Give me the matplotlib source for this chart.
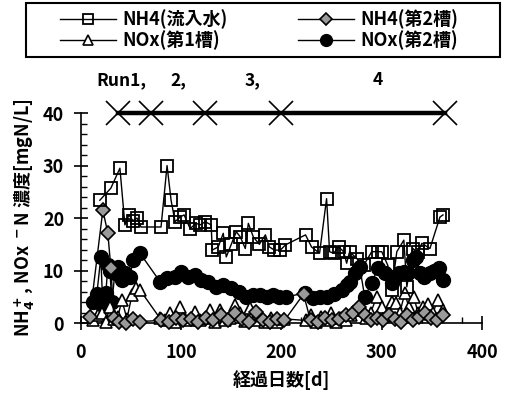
import matplotlib
matplotlib.use('Agg')
import matplotlib.pyplot as plt
from matplotlib.ticker import MultipleLocator
from matplotlib.patches import Rectangle

plt.rcParams['font.family'] = ['Noto Sans CJK JP', 'DejaVu Sans']
plt.rcParams['font.size'] = 12
plt.rcParams['font.weight'] = 'bold'
plt.rcParams['axes.labelweight'] = 'bold'
plt.rcParams['mathtext.fontset'] = 'dejavusans'
plt.rcParams['mathtext.default'] = 'bf'

# NH4 inflow (open squares)
nh4_in_day = [19, 30, 39, 44, 48, 52, 56, 60, 80, 86, 90, 94, 99, 103, 109, 115, 119, 124, 130, 131,
              137, 142, 145, 150, 155, 159, 164, 167, 172, 178, 184, 188, 193, 199, 204, 224, 230, 238,
              245, 248, 252, 257, 262, 265, 268, 275, 282, 290, 296, 300, 306, 310, 315, 322, 325, 331,
              336, 340, 348, 358, 361]
nh4_in = [23.4, 25.7, 29.5, 18.7, 20.6, 19.5, 20.0, 18.3, 18.3, 30.0, 23.4, 19.3, 20.2, 20.6, 18.0, 19.0,
          18.7, 19.3, 18.7, 13.9, 14.5, 17.1, 12.6, 15.0, 17.4, 16.4, 14.2, 19.0, 16.4, 15.0, 16.8, 14.5,
          13.9, 13.9, 14.9, 16.8, 14.5, 13.3, 23.7, 13.6, 13.3, 14.5, 13.6, 11.4, 13.6, 12.3, 11.0, 13.6,
          13.6, 13.6, 11.0, 6.3, 13.6, 15.8, 6.9, 14.2, 13.5, 15.2, 14.2, 20.2, 20.6]

# NH4 2nd tank (grey diamonds)
nh4_2_day = [9, 22, 27, 30, 33, 38, 45, 52, 59, 80, 88, 95, 102, 110, 117, 125, 132, 140, 147, 154,
             161, 168, 175, 182, 189, 196, 203, 222, 229, 236, 243, 250, 257, 264, 271, 277, 283, 289,
             295, 301, 307, 313, 319, 325, 331, 337, 343, 349, 355, 361]
nh4_2 = [1.2, 21.5, 17.1, 10.4, 1.0, 0.3, 0.0, 0.8, 0.3, 0.5, 0.3, 1.0, 0.5, 0.8, 0.3, 1.0, 0.5, 1.5,
         0.5, 1.9, 0.8, 0.3, 2.2, 0.5, 0.3, 0.8, 0.5, 5.5, 0.5, 0.3, 1.0, 0.5, 0.8, 1.5, 2.0, 3.0, 1.5,
         0.5, 1.0, 0.5, 1.5, 0.8, 0.3, 1.5, 0.5, 1.2, 2.0, 1.0, 0.5, 1.5]

# NOx 1st tank (open triangles)
nox1_day = [12, 17, 21, 25, 29, 33, 37, 41, 46, 51, 55, 59, 79, 84, 89, 94, 99, 104, 109, 114, 119,
            124, 129, 134, 139, 144, 149, 154, 159, 164, 169, 174, 179, 184, 190, 196, 203, 224, 229,
            234, 239, 244, 249, 254, 259, 264, 269, 274, 279, 284, 289, 295, 300, 305, 310, 314, 318,
            323, 327, 332, 336, 341, 346, 351, 356, 361]
nox1 = [0.5, 1.5, 1.9, 0.3, 3.0, 0.8, 1.2, 4.4, 0.8, 5.3, 6.7, 6.3, 0.9, 0.5, 2.0, 0.3, 3.1, 0.8, 0.5,
        2.2, 0.5, 1.0, 2.5, 0.3, 2.5, 0.5, 1.0, 3.5, 1.9, 0.4, 2.8, 0.5, 1.5, 0.3, 1.0, 0.3, 0.8, 0.5,
        1.5, 0.3, 1.2, 0.5, 2.0, 0.3, 1.0, 0.5, 1.5, 2.5, 3.1, 1.0, 2.0, 5.0, 3.0, 1.5, 4.0, 3.8, 2.0,
        5.7, 3.0, 5.0, 2.0, 3.0, 3.7, 2.0, 4.4, 2.5]

# NOx 2nd tank (filled circles)
nox2_day = [12, 16, 20, 22, 25, 27, 29, 31, 34, 37, 41, 44, 49, 52, 59, 79, 86, 94, 100, 107, 114,
            120, 127, 135, 142, 150, 158, 165, 172, 179, 186, 192, 198, 205, 223, 231, 238, 245, 252,
            260, 265, 268, 273, 278, 283, 290, 296, 303, 310, 313, 317, 322, 326, 331, 334, 338, 342,
            348, 352, 357, 361]
nox2 = [4.0, 5.5, 12.6, 3.0, 5.7, 11.0, 10.0, 4.0, 9.5, 10.7, 8.2, 9.5, 8.8, 12.0, 13.3, 7.9, 8.5, 8.8,
        9.8, 8.8, 9.1, 8.2, 7.9, 6.9, 7.2, 6.6, 6.0, 5.0, 5.3, 5.3, 5.0, 5.3, 5.0, 5.0, 5.7, 4.8, 5.0,
        5.0, 5.5, 6.3, 7.2, 7.9, 9.5, 10.7, 5.0, 7.6, 10.4, 9.5, 7.6, 8.8, 9.5, 9.8, 9.5, 12.0, 12.6,
        9.5, 8.8, 9.5, 10.0, 10.4, 8.2]

# run boundaries and labels
run_day = [37, 70, 124, 200, 363]
run_level = 40
run_labels = ['Run1,', '2,', '3,', '4']
run_label_day = [16, 89, 163, 291]

W, H = 508, 394
fig = plt.figure(figsize=(W / 100, H / 100), dpi=100)
ax = fig.add_axes([0.159, 0.180, 0.790, 0.533])

ax.plot(nox2_day, nox2, color='black', lw=1.0, marker='o', ms=10, mfc='black', mec='black',
        clip_on=False, zorder=3, label='NOx(第2槽)')
ax.plot(nox1_day, nox1, color='black', lw=1.0, marker='^', ms=8, mfc='white', mec='black', mew=1.2,
        clip_on=False, zorder=4, label='NOx(第1槽)')
ax.plot(nh4_2_day, nh4_2, color='black', lw=1.0, marker='D', ms=7, mfc='#9a9a9a', mec='black', mew=1.2,
        clip_on=False, zorder=5, label='NH4(第2槽)')
ax.plot(nh4_in_day, nh4_in, color='black', lw=1.0, marker='s', ms=8, mfc='none', mec='black', mew=1.3,
        clip_on=False, zorder=6, label='NH4(流入水)')

# run bar
ax.plot(run_day, [run_level] * len(run_day), color='black', lw=3.2, marker='x', ms=17, mew=1.2,
        clip_on=False, zorder=6)
for lab, d in zip(run_labels, run_label_day):
    ax.text(d, 46.3, lab, ha='left', va='center', fontsize=12.5, clip_on=False)

ax.set_xlim(0, 400)
ax.set_ylim(0, 40)
ax.xaxis.set_major_locator(MultipleLocator(100))
ax.xaxis.set_minor_locator(MultipleLocator(20))
ax.yaxis.set_major_locator(MultipleLocator(10))
ax.yaxis.set_minor_locator(MultipleLocator(2))
ax.tick_params(which='major', direction='inout', length=10, width=1.2, labelsize=13)
ax.tick_params(axis='x', which='major', pad=9)
ax.tick_params(axis='y', which='major', pad=7)
ax.tick_params(which='minor', direction='in', length=4, width=1.0)
ax.spines['top'].set_visible(False)
ax.spines['right'].set_visible(False)
ax.spines['left'].set_linewidth(1.2)
ax.spines['bottom'].set_linewidth(1.2)

ax.set_xlabel('経過日数[d]', fontsize=13, labelpad=6)
ax.set_ylabel('NH$_4^+$, NOx $^-$N 濃度[mgN/L]', fontsize=13, labelpad=5)

# legend box
fig.patches.append(Rectangle((26 / W, 1 - 57 / H), 474 / W, 54 / H, transform=fig.transFigure,
                             fill=False, edgecolor='black', lw=1.5))
h, l = ax.get_legend_handles_labels()
order = [3, 1, 2, 0]
fig.legend([h[i] for i in order], [l[i] for i in order], ncol=2, loc='center',
           bbox_to_anchor=(0.51, 1 - 30 / H), frameon=False, fontsize=13,
           handlelength=3.1, handletextpad=0.35, labelspacing=0.05, columnspacing=3.9,
           borderpad=0, markerscale=0.85)

fig.savefig('out.png', dpi=100, facecolor='white')
